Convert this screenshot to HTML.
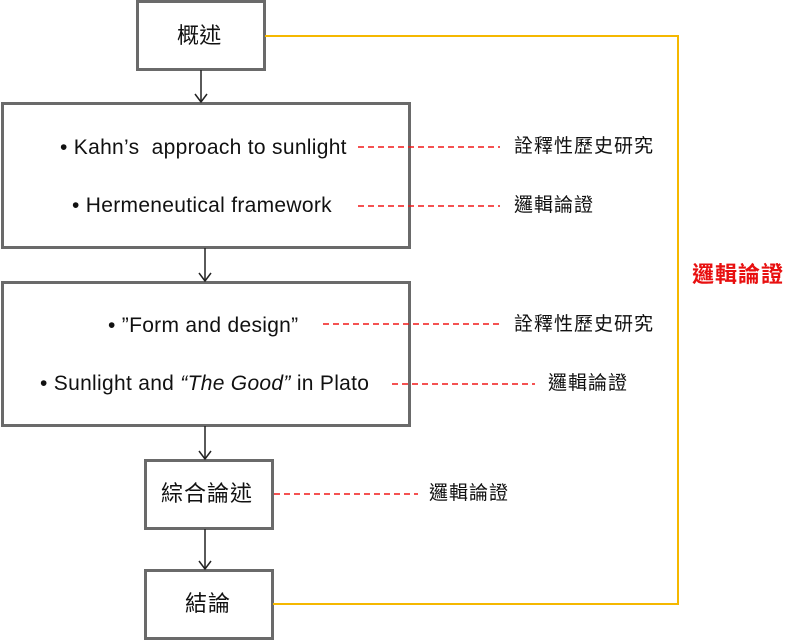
<!DOCTYPE html>
<html><head><meta charset="utf-8"><style>
body{margin:0;width:800px;height:640px;background:#fff;overflow:hidden;position:relative;font-family:"Liberation Sans","Noto Sans CJK TC",sans-serif;}
.b{position:absolute;border:3px solid #6a6a6a;box-sizing:border-box;background:#fff;}
.t{position:absolute;white-space:nowrap;font-size:21px;color:#111;line-height:1;letter-spacing:0.3px}
.c{font-size:19px;letter-spacing:1px}
</style></head><body>
<div class="b" style="left:136px;top:0;width:130px;height:71px"></div>
<div class="b" style="left:1px;top:102px;width:410px;height:147px"></div>
<div class="b" style="left:1px;top:281px;width:410px;height:146px"></div>
<div class="b" style="left:144px;top:459px;width:130px;height:71px"></div>
<div class="b" style="left:144px;top:569px;width:130px;height:71px"></div>
<svg width="800" height="640" style="position:absolute;left:0;top:0">
<g stroke="#222" stroke-width="1.5" fill="none">
<line x1="201" y1="70" x2="201" y2="102"/><polyline points="195,94 201,102 207,94"/>
<line x1="205" y1="248" x2="205" y2="281"/><polyline points="199,273 205,281 211,273"/>
<line x1="205" y1="426" x2="205" y2="459"/><polyline points="199,451 205,459 211,451"/>
<line x1="205" y1="529" x2="205" y2="569"/><polyline points="199,561 205,569 211,561"/>
</g>
<polyline points="265,36 678,36 678,604 273,604" stroke="#f5b800" stroke-width="2" fill="none"/>
<g stroke="#f01818" stroke-width="1.6" stroke-dasharray="6,4">
<line x1="358" y1="147" x2="500" y2="147"/>
<line x1="358" y1="206" x2="500" y2="206"/>
<line x1="323" y1="324" x2="500" y2="324"/>
<line x1="392" y1="384" x2="535" y2="384"/>
<line x1="274" y1="494" x2="418" y2="494"/>
</g>
</svg>
<div class="t" style="left:177px;top:25px;font-size:22px">概述</div>
<div class="t" style="left:60px;top:137px">• Kahn’s&nbsp; approach to sunlight</div>
<div class="t" style="left:72px;top:195px">• Hermeneutical framework</div>
<div class="t" style="left:108px;top:315px">• ”Form and design”</div>
<div class="t" style="left:40px;top:373px">• Sunlight and <i>“The Good”</i> in Plato</div>
<div class="t" style="left:161px;top:483px;font-size:22px;letter-spacing:1px">綜合論述</div>
<div class="t" style="left:185px;top:593px;font-size:22px;letter-spacing:1px">結論</div>
<div class="t c" style="left:514px;top:137px">詮釋性歷史研究</div>
<div class="t c" style="left:514px;top:196px">邏輯論證</div>
<div class="t c" style="left:514px;top:315px">詮釋性歷史研究</div>
<div class="t c" style="left:548px;top:374px">邏輯論證</div>
<div class="t c" style="left:429px;top:484px">邏輯論證</div>
<div class="t" style="left:692px;top:264px;color:#e81010;font-weight:bold;font-size:22px;letter-spacing:1px">邏輯論證</div>
</body></html>
